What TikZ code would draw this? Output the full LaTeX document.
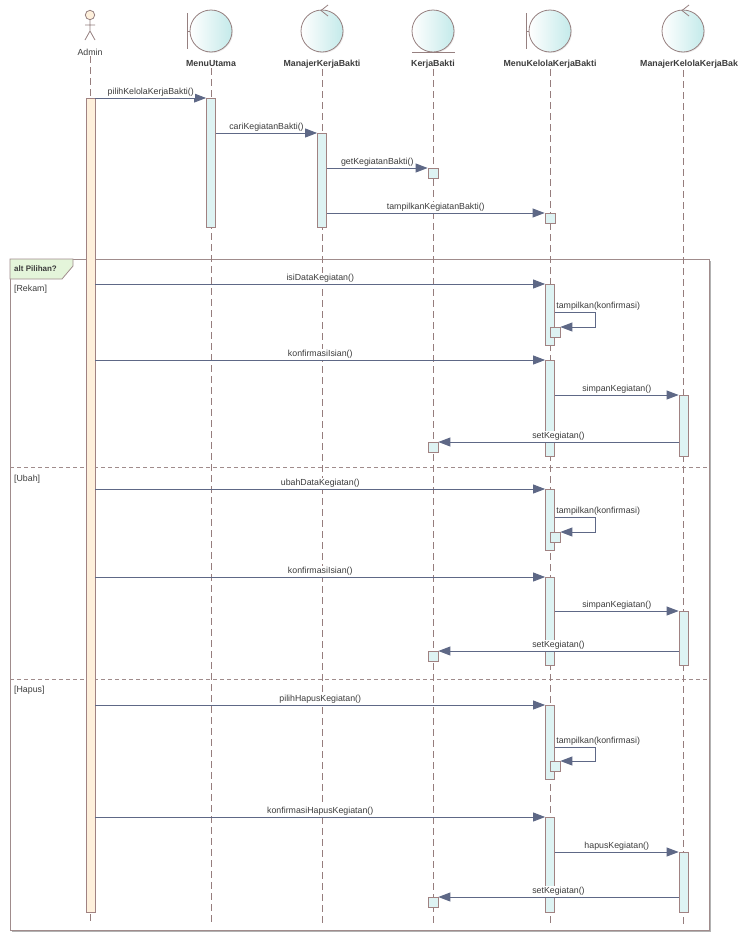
\documentclass[tikz,border=0pt]{standalone}
\usepackage{fontspec}
\setmainfont{Liberation Sans}
\usetikzlibrary{arrows.meta,shadows}

\definecolor{msgline}{RGB}{94,104,134}
\definecolor{lifeline}{RGB}{150,125,125}
\definecolor{barline}{RGB}{160,130,130}
\definecolor{actfill}{RGB}{222,243,243}
\definecolor{adminfill}{RGB}{254,240,220}
\definecolor{objfill}{RGB}{196,234,234}
\definecolor{objline}{RGB}{150,128,128}
\definecolor{frameline}{RGB}{160,140,140}
\definecolor{altfill}{RGB}{228,245,218}
\definecolor{txt}{RGB}{60,60,60}

\begin{document}
\begin{tikzpicture}[x=1pt, y=-1pt, font=\fontsize{8.8}{10}\selectfont]
	\tikzstyle{every node}=[inner sep=1pt, align=center, text=txt]
	\tikzstyle{life}=[draw=lifeline, line width=0.8pt, dash pattern=on 7pt off 4pt]
	\tikzstyle{sep}=[draw=frameline, line width=0.8pt, dash pattern=on 4pt off 3pt]
	\tikzstyle{bar}=[draw=barline, line width=0.8pt, fill=actfill, minimum width=9pt, inner sep=0pt, anchor=north]
	\tikzstyle{dot}=[draw=barline, line width=0.8pt, fill=actfill, minimum size=10pt, inner sep=0pt, anchor=north]
	\tikzstyle{msg}=[draw=msgline, line width=0.9pt, -{Triangle[length=12pt, width=9pt]}]
	\tikzstyle{say}=[midway, above, fill=white]
	\tikzstyle{obj}=[circle, draw=objline, line width=0.8pt, minimum size=42pt, left color=white, right color=objfill, drop shadow={shadow xshift=1pt, shadow yshift=-1pt, opacity=0.15}]
	\tikzstyle{head}=[font=\fontsize{8.8}{10}\selectfont\bfseries]
	\tikzstyle{guard}=[anchor=west]

	\fill[white] (0,0) rectangle (737,940);
	\useasboundingbox (0,0) rectangle (737,940);

	% heads
	\draw[objline, line width=0.8pt, fill=adminfill] (90,15) circle (4.7);
	\draw[objline, line width=0.8pt] (90,20) -- (90,31) (85,25) -- (95,25) (85,40) -- (90,31) -- (95,40);
	\node (A) at (90,52) {Admin};
	\node[obj] (MUo) at (211,31) {};
	\draw[objline, line width=0.8pt] (187,13) -- (187,49) (187,31) -- (MUo.west);
	\node[head] (MU) at (211,64) {MenuUtama};
	\node[obj] (MKo) at (322,31) {};
	\draw[objline, line width=0.8pt] (328,5) -- (321,10.5) -- (328,16);
	\node[head] (MK) at (322,64) {ManajerKerjaBakti};
	\node[obj] (KBo) at (433,31) {};
	\draw[objline, line width=0.8pt] (412,52) -- (455,52);
	\node[head] (KB) at (433,64) {KerjaBakti};
	\node[obj] (MKKo) at (550,31) {};
	\draw[objline, line width=0.8pt] (526,13) -- (526,49) (526,31) -- (MKKo.west);
	\node[head] (MKK) at (550,64) {MenuKelolaKerjaBakti};
	\node[obj] (MJo) at (683,31) {};
	\draw[objline, line width=0.8pt] (689,5) -- (682,10.5) -- (689,16);
	\node[head, anchor=west] (MJ) at (639,64) {ManajerKelolaKerjaBakti};
	\coordinate (MJl) at (683.5,70);

	% alt frame
	\node[draw=frameline, line width=0.8pt, fill=white, minimum width=699pt, minimum height=671pt, anchor=north west, inner sep=0pt, drop shadow={shadow xshift=1.5pt, shadow yshift=-1.5pt, opacity=0.6, fill=gray}] (alt) at (10,259) {};
	\draw[draw=frameline, line width=0.8pt, fill=altfill] (10,259) -- (73,259) -- (73,266) -- (62,279) -- (10,279) -- cycle;
	\node[head, font=\fontsize{8}{9}\selectfont\bfseries, anchor=west] (altL) at (13,269) {alt Pilihan?};
	\node[guard] (g1) at (13,289) {[Rekam]};
	\draw[sep] (alt.west |- 0,467) -- (alt.east |- 0,467);
	\node[guard] (g2) at (13,479) {[Ubah]};
	\draw[sep] (alt.west |- 0,679) -- (alt.east |- 0,679);
	\node[guard] (g3) at (13,690) {[Hapus]};

	% lifelines
	\coordinate (end) at (0,925);
	\draw[life] (A) -- (A |- end);
	\draw[life] (MU) -- (MU |- end);
	\draw[life] (MK) -- (MK |- end);
	\draw[life] (KB) -- (KB |- end);
	\draw[life] (MKK) -- (MKK |- end);
	\draw[life] (MJl) -- (MJl |- end);

	% tampil
	\node[bar, fill=adminfill, minimum height=814pt] (a1) at (90.5,98) {};
	\node[bar, minimum height=129pt] (mu1) at (211,98) {};
	\node[bar, minimum height=94pt] (mk1) at (322,133) {};
	\node[dot] (kb1) at (433,168) {};
	\node[dot] (mkk1) at (550,213) {};
	\draw[msg] (a1.north east) -- (mu1.north west) node[say] {pilihKelolaKerjaBakti()};
	\draw[msg] (mu1.east |- mk1.north) -- (mk1.north west) node[say] {cariKegiatanBakti()};
	\draw[msg] (mk1.east |- kb1.north) -- (kb1.north west) node[say] {getKegiatanBakti()};
	\draw[msg] (mk1.east |- mkk1.north) -- (mkk1.north west) node[say] {tampilkanKegiatanBakti()};

	% rekam
	\node[bar, minimum height=61pt] (mkk2) at (550,284) {};
	\node[dot] (t1) at (555,327) {};
	\draw[msg] (a1.east |- mkk2.north) -- (mkk2.north west) node[say] {isiDataKegiatan()};
	\draw[msg] (mkk2.east |- 0,312) node[above right] {tampilkan(konfirmasi)} -- ++(41,0) |- (t1.north east);
	\node[bar, minimum height=96pt] (mkk3) at (550,360) {};
	\node[bar, minimum height=61pt] (mj1) at (683.5,395) {};
	\node[dot] (kb2) at (433,442) {};
	\draw[msg] (a1.east |- mkk3.north) -- (mkk3.north west) node[say] {konfirmasiIsian()};
	\draw[msg] (mkk3.east |- mj1.north) -- (mj1.north west) node[say] {simpanKegiatan()};
	\draw[msg] (mj1.west |- kb2.north) -- (kb2.north east) node[say] {setKegiatan()};

	% ubah
	\node[bar, minimum height=61pt] (mkk4) at (550,489) {};
	\node[dot] (t2) at (555,532) {};
	\draw[msg] (a1.east |- mkk4.north) -- (mkk4.north west) node[say] {ubahDataKegiatan()};
	\draw[msg] (mkk4.east |- 0,517) node[above right] {tampilkan(konfirmasi)} -- ++(41,0) |- (t2.north east);
	\node[bar, minimum height=88pt] (mkk5) at (550,577) {};
	\node[bar, minimum height=54pt] (mj2) at (683.5,611) {};
	\node[dot] (kb3) at (433,651) {};
	\draw[msg] (a1.east |- mkk5.north) -- (mkk5.north west) node[say] {konfirmasiIsian()};
	\draw[msg] (mkk5.east |- mj2.north) -- (mj2.north west) node[say] {simpanKegiatan()};
	\draw[msg] (mj2.west |- kb3.north) -- (kb3.north east) node[say] {setKegiatan()};

	% hapus
	\node[bar, minimum height=74pt] (mkk6) at (550,705) {};
	\node[dot] (t3) at (555,761) {};
	\draw[msg] (a1.east |- mkk6.north) -- (mkk6.north west) node[say] {pilihHapusKegiatan()};
	\draw[msg] (mkk6.east |- 0,747) node[above right] {tampilkan(konfirmasi)} -- ++(41,0) |- (t3.north east);
	\node[bar, minimum height=95pt] (mkk7) at (550,817) {};
	\node[bar, minimum height=60pt] (mj3) at (683.5,852) {};
	\node[dot] (kb4) at (433,897) {};
	\draw[msg] (a1.east |- mkk7.north) -- (mkk7.north west) node[say] {konfirmasiHapusKegiatan()};
	\draw[msg] (mkk7.east |- mj3.north) -- (mj3.north west) node[say] {hapusKegiatan()};
	\draw[msg] (mj3.west |- kb4.north) -- (kb4.north east) node[say] {setKegiatan()};
\end{tikzpicture}
\end{document}
